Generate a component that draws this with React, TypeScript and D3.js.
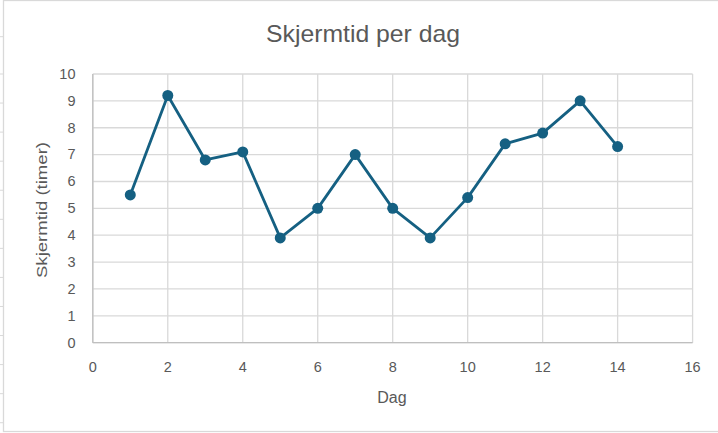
import React from "react";
import * as d3 from "d3";

const days = [1, 2, 3, 4, 5, 6, 7, 8, 9, 10, 11, 12, 13, 14];
const hours = [5.5, 9.2, 6.8, 7.1, 3.9, 5.0, 7.0, 5.0, 3.9, 5.4, 7.4, 7.8, 9.0, 7.3];
const xTicks = [0, 2, 4, 6, 8, 10, 12, 14, 16];
const yTicks = [0, 1, 2, 3, 4, 5, 6, 7, 8, 9, 10];
const title = "Skjermtid per dag";
const xTitle = "Dag";
const yTitle = "Skjermtid (timer)";

const W = 718;
const H = 433;
const FONT = "'Liberation Sans', Arial, sans-serif";
const TEXT = "#595959";
const GRID = "#d9d9d9";
const LINE = "#156082";

export default function App() {
  const x = d3.scaleLinear().domain([0, 16]).range([92.8, 692.6]);
  const y = d3.scaleLinear().domain([0, 10]).range([342.7, 74]);
  const line = d3
    .line<number>()
    .x((_, i) => x(days[i]))
    .y((d) => y(d));
  const rowMarks = d3.range(14).map((i) => (i === 0 ? 36.7 : 74 + (i - 1) * 29.06));

  return (
    <div style={{ position: "fixed", left: 0, top: 0, width: W, height: H, background: "#fff" }}>
      <svg width={W} height={H} style={{ display: "block" }}>
        <rect x={0} y={0} width={W} height={H} fill="#fff" />
        {rowMarks.map((m, i) => (
          <line key={"rm" + i} x1={0} x2={3.5} y1={m} y2={m} stroke={GRID} strokeWidth={1} />
        ))}
        <rect x={3.5} y={0.5} width={W + 10} height={431} fill="#fff" stroke={GRID} strokeWidth={1.3} />
        {yTicks.map((t) => (
          <line key={"gy" + t} x1={x(0)} x2={x(16)} y1={y(t)} y2={y(t)} stroke={GRID} strokeWidth={1.3} />
        ))}
        {xTicks.map((t) => (
          <line key={"gx" + t} x1={x(t)} x2={x(t)} y1={y(0)} y2={y(10)} stroke={GRID} strokeWidth={1.3} />
        ))}
        <line x1={x(0)} x2={x(0)} y1={y(0)} y2={y(10)} stroke="#bfbfbf" strokeWidth={1.3} />
        <line x1={x(0)} x2={x(16)} y1={y(0)} y2={y(0)} stroke="#bfbfbf" strokeWidth={1.3} />
        {yTicks.map((t) => (
          <text key={"ty" + t} x={75.5} y={y(t) + 4.8} textAnchor="end" fontFamily={FONT} fontSize={14.5} fill={TEXT}>
            {t}
          </text>
        ))}
        {xTicks.map((t) => (
          <text key={"tx" + t} x={x(t)} y={371.5} textAnchor="middle" fontFamily={FONT} fontSize={14.5} fill={TEXT}>
            {t}
          </text>
        ))}
        <path d={line(hours) || ""} fill="none" stroke={LINE} strokeWidth={2.8} strokeLinejoin="round" />
        {hours.map((h, i) => (
          <circle key={"p" + i} cx={x(days[i])} cy={y(h)} r={5.5} fill={LINE} />
        ))}
        <text
          x={363}
          y={42}
          textAnchor="middle"
          fontFamily={FONT}
          fontSize={24}
          fill={TEXT}
          textLength={194}
          lengthAdjust="spacingAndGlyphs"
        >
          {title}
        </text>
        <text x={392} y={402.5} textAnchor="middle" fontFamily={FONT} fontSize={16} fill={TEXT}>
          {xTitle}
        </text>
        <text
          transform={`translate(46.5,210) rotate(-90)`}
          textAnchor="middle"
          fontFamily={FONT}
          fontSize={15}
          fill={TEXT}
          textLength={136}
          lengthAdjust="spacingAndGlyphs"
        >
          {yTitle}
        </text>
      </svg>
    </div>
  );
}
